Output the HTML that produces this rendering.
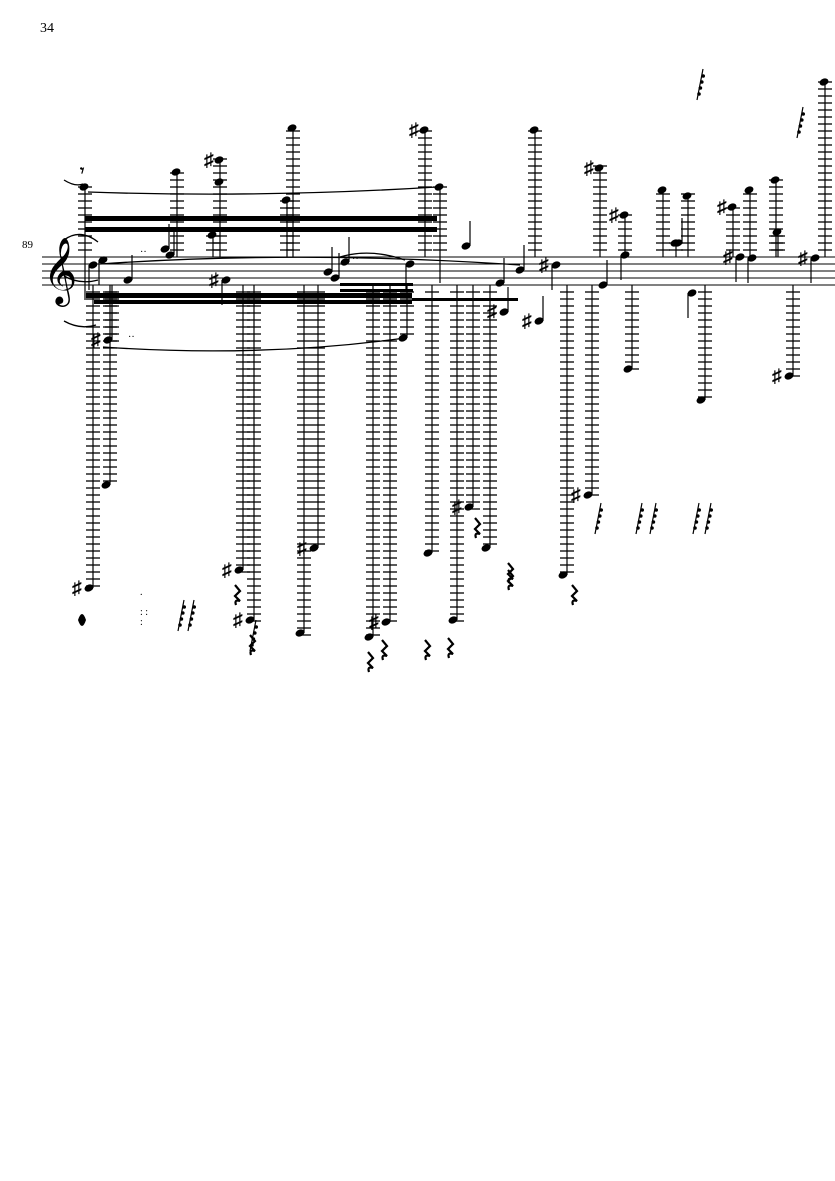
<!DOCTYPE html>
<html><head><meta charset="utf-8">
<style>
html,body{margin:0;padding:0;background:#fff;width:835px;height:1181px;overflow:hidden}
svg{display:block}
text{font-family:"Liberation Serif",serif;fill:#000}
</style></head>
<body>
<svg id="s" width="835" height="1181" viewBox="0 0 835 1181" xmlns="http://www.w3.org/2000/svg">
<text x="40" y="32" font-size="14">34</text>
<text x="22" y="248" font-size="11">89</text>
<g stroke="#000" stroke-width="1">
<line x1="42" y1="257" x2="835" y2="257"/><line x1="42" y1="264" x2="835" y2="264"/>
<line x1="42" y1="271" x2="835" y2="271"/><line x1="42" y1="278" x2="835" y2="278"/>
<line x1="42" y1="285" x2="835" y2="285"/>
</g>
<text x="43" y="290" font-size="58">𝄞</text>
<g id="g"></g>
<g fill="#000">
<rect x="85" y="216" width="352" height="5"/>
<rect x="85" y="227" width="352" height="5"/>
<rect x="86" y="293" width="326" height="5"/>
<rect x="94" y="300" width="318" height="4"/>
<rect x="340" y="283" width="73" height="3"/>
<rect x="340" y="289" width="73" height="3"/>
<rect x="412" y="298" width="106" height="3"/>
</g>
<g fill="none" stroke="#000" stroke-width="1.3">
<path d="M88 192 Q260 198 437 187"/>
<path d="M100 264 Q300 250 520 265"/>
<path d="M103 347 Q260 358 405 338"/>
<path d="M340 257 Q370 248 405 260"/>
<path d="M64 240 Q80 228 98 242"/>
<path d="M64 276 Q80 285 98 280"/>
<path d="M64 321 Q80 330 96 325"/>
<path d="M64 180 Q75 187 83 184"/>
</g>
</svg>
<script>
const g=document.getElementById('g');let h='';
function L(x1,y1,x2,y2,w){h+=`<line x1="${x1}" y1="${y1}" x2="${x2}" y2="${y2}" stroke="#000" stroke-width="${w||1.2}"/>`;}
function head(x,y){h+=`<ellipse cx="${x}" cy="${y}" rx="4.6" ry="3.4" transform="rotate(-22 ${x} ${y})" fill="#000"/>`;}
function sharp(x,y){h+=`<text x="${x-13}" y="${y+6}" font-size="19" font-weight="bold">♯</text>`;}
function up(x,y,bot,s){L(x,y,x,bot||257);for(let yy=250;yy>=y-2;yy-=7)L(x-7,yy,x+7,yy,1.3);head(x-1,y);if(s)sharp(x-3,y);}
function down(x,y,s){L(x,285,x,y);for(let yy=292;yy<=y+2;yy+=7)L(x-7,yy,x+7,yy,1.3);head(x-4,y);if(s)sharp(x-8,y);}
function hn(x,y,stemUp,s){head(x,y);if(stemUp)L(x+4,y,x+4,y-25);else L(x-4,y,x-4,y+25);if(s)sharp(x-4,y);}
function rest(x,y){h+=`<path d="M${x} ${y} l5 6 l-5 5 l5 5 q-6 -2 -4 4" stroke="#000" stroke-width="2.2" fill="none"/>`;}
function grace(x,y){L(x+6,y-25,x,y+6,1.2);for(let i=0;i<4;i++){h+=`<circle cx="${x+2+i*1.4}" cy="${y-i*6}" r="1.8" fill="#000"/>`;}}
up(85,187,300);up(177,172);up(220,160,257,1);head(219,182);up(213,235);
up(293,128);up(287,200,257);up(425,130,257,1);up(440,187,283);
up(535,130);up(600,168,257,1);up(625,215,257,1);up(663,190);up(688,196);up(676,243);
up(733,207,257,1);up(750,190);up(776,180);up(778,232);up(825,82);
down(93,588,1);down(110,485);down(112,340,1);
down(243,570,1);down(254,620,1);down(304,633);down(318,548,1);
down(373,637);down(390,622,1);down(407,338);down(432,553);down(457,620);down(473,507,1);down(490,548);
down(567,575);down(592,495,1);down(632,369);down(705,400);down(793,376,1);
hn(93,265,false);hn(103,260,false);hn(128,280,true);hn(165,249,true);hn(170,255,true);
hn(226,280,false,1);hn(328,272,true);hn(335,278,true);hn(345,262,true);hn(410,264,false);
hn(466,246,true);hn(500,283,true);hn(520,270,true);hn(504,312,true,1);hn(539,321,true,1);
hn(556,265,false,1);hn(603,285,true);hn(625,255,false);hn(678,243,true);hn(692,293,false);
hn(740,257,false,1);hn(752,258,false);hn(815,258,false,1);
[[235,585],[250,635],[368,652],[382,640],[425,640],[448,638],[475,518],[508,563],[572,585],[508,570]].forEach(r=>rest(r[0],r[1]));
grace(178,625);grace(188,625);grace(250,645);grace(595,528);grace(636,528);grace(650,528);grace(693,528);grace(705,528);grace(697,94);grace(797,132);
h+=`<text x="140" y="595" font-size="10">.</text><text x="140" y="615" font-size="10">: :</text><text x="140" y="625" font-size="10">:</text>`;
h+=`<text x="128" y="340" font-size="10">··</text><text x="140" y="255" font-size="10">··</text><text x="352" y="262" font-size="10">··</text>`;
h+=`<text x="80" y="176" font-size="16" font-weight="bold">𝄾</text>`;
h+=`<path d="M78 620 q4 -12 8 0 q-4 12 -8 0z" fill="#000"/>`;
g.innerHTML=h;
</script>
</body></html>
